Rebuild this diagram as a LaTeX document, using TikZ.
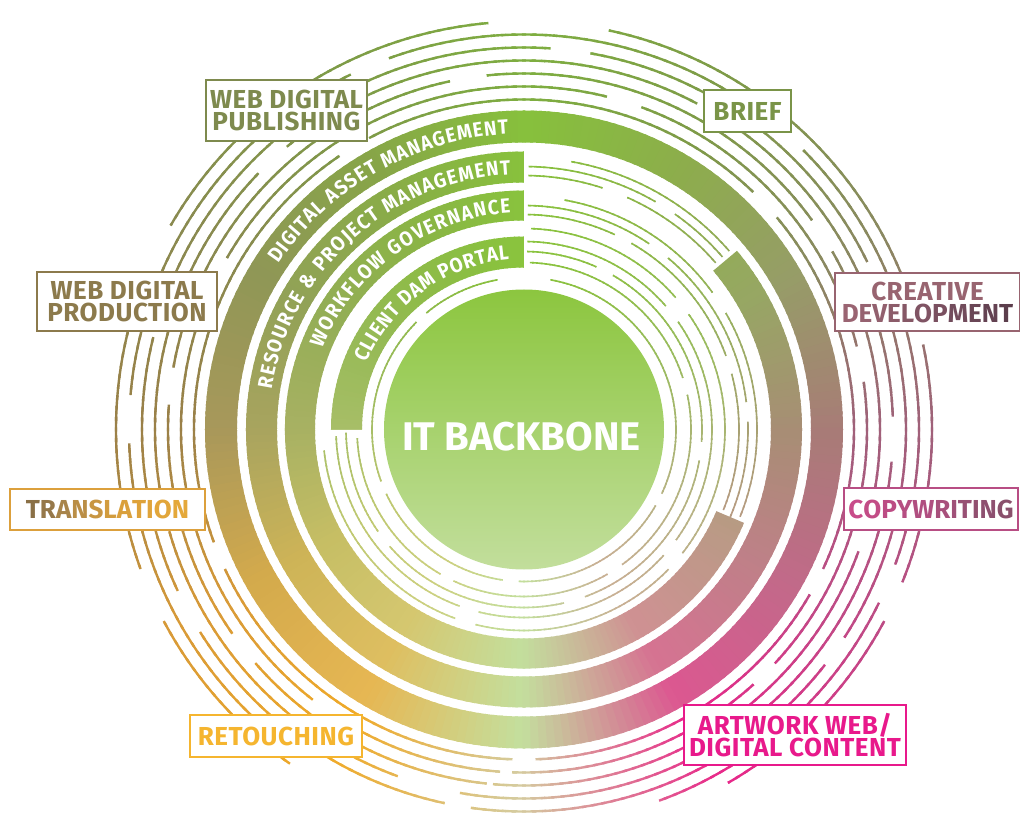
\documentclass[tikz,border=0pt]{standalone}
\usepackage{fontspec}
\setmainfont{Fira Sans}
\newfontfamily\bandfont{Fira Sans}[FakeStretch=0.92]
\usetikzlibrary{decorations.text}
% band colour stops every 30 degrees
\definecolor{c0}{HTML}{A87078}
\definecolor{c1}{HTML}{96966A}
\definecolor{c2}{HTML}{8CAA4C}
\definecolor{c3}{HTML}{86C03C}
\definecolor{c4}{HTML}{86A048}
\definecolor{c5}{HTML}{8E9056}
\definecolor{c6}{HTML}{A89058}
\definecolor{c7}{HTML}{D8A444}
\definecolor{c8}{HTML}{ECB24A}
\definecolor{c9}{HTML}{C4DF9E}
\definecolor{c10}{HTML}{E04590}
\definecolor{c11}{HTML}{C45A8A}
% outer line colour stops
\definecolor{d0}{HTML}{A0607A}
\definecolor{d1}{HTML}{8A8A60}
\definecolor{d2}{HTML}{7E9A48}
\definecolor{d3}{HTML}{7EAE40}
\definecolor{d4}{HTML}{7E9A48}
\definecolor{d5}{HTML}{8A8A50}
\definecolor{d6}{HTML}{9A8048}
\definecolor{d7}{HTML}{D89A38}
\definecolor{d8}{HTML}{F0AA28}
\definecolor{d9}{HTML}{D4CCA0}
\definecolor{d10}{HTML}{E8288A}
\definecolor{d11}{HTML}{C04A86}
\definecolor{gT}{HTML}{8CC63F}
\definecolor{gB}{HTML}{C2DE9C}
\definecolor{colPub}{HTML}{7E8A4E}
\definecolor{colBrief}{HTML}{7A9448}
\definecolor{colProd}{HTML}{8C7A4C}
\definecolor{colCrea}{HTML}{986470}
\definecolor{colTrans}{HTML}{DCA03C}
\definecolor{colCopy}{HTML}{B84E84}
\definecolor{colRet}{HTML}{F5B52F}
\definecolor{colArt}{HTML}{E8198B}
\newcommand{\setcellcolor}[3]{%
  \pgfmathsetmacro{\cellk}{int(floor(#1/30))}%
  \pgfmathsetmacro{\celln}{int(mod(\cellk+1,12))}%
  \pgfmathsetmacro{\cellf}{int(100-(#1-30*\cellk)/30*100)}%
  \colorlet{tmpO}{#3\cellk!\cellf!#3\celln}%
  \pgfmathsetmacro{\cellp}{int((1-sin(#1))/2*100)}%
  \colorlet{tmpI}{gB!\cellp!gT}%
  \colorlet{cellc}{tmpO!#2!tmpI}%
}
\newcommand{\lc}[2]{\textcolor[HTML]{#1}{#2}}
\tikzset{
  lbl/.style={draw=#1, text=#1, fill=white, line width=2.5pt, inner sep=0pt,
    font=\fontsize{26}{22}\selectfont\bfseries\addfontfeature{LetterSpace=2}, align=center},
  bandtext/.style={decorate, decoration={text along path, text align=fit to path,
    text color=white, text={#1}}},
}
\begin{document}
\begin{tikzpicture}[x=1pt,y=1pt]
\useasboundingbox (-524,-384.5) rectangle (496,429.5);
\begin{scope}
\clip foreach \ri/\ro/\a/\b in {287/319/0/360, 247/278/90/400, 209/239/90/337, 162/193/90/180}
  { (\a:\ri) arc[start angle=\a, end angle=\b, radius=\ri] -- (\b:\ro) arc[start angle=\b, end angle=\a, radius=\ro] -- cycle }
  foreach \r/\w/\a/\b [evaluate=\r as \ri using \r-\w, evaluate=\r as \ro using \r+\w] in {
   152/0.8/100/130, 152/0.8/135/200, 152/0.8/205/262, 152/0.8/268/330, 152/0.8/335/440,
   167/0.8/183/240, 167/0.8/245/300, 167/0.8/306/372, 167/0.8/378/448,
   178/0.8/181/215, 178/0.8/221/283, 178/0.8/290/350, 178/0.8/356/420, 178/0.8/426/449,
   188/0.8/182/250, 188/0.8/256/318, 188/0.8/324/395, 188/0.8/401/449,
   201/0.8/186/250, 201/0.8/256/316, 201/0.8/322/395, 201/0.8/401/448,
   215/0.8/338/375, 215/0.8/380/420, 215/0.8/425/449,
   224/0.8/337/362, 224/0.8/367/410, 224/0.8/416/449,
   233/0.8/338/390, 233/0.8/396/440,
   254/0.8/41/66, 254/0.8/72/89, 263/0.8/41/55, 263/0.8/60/89, 272/0.8/41/80,
   330/1.2/-88/-30, 330/1.2/-25/40, 330/1.2/46/118, 330/1.2/124/200, 330/1.2/205/268,
   343/1.2/-92/-48, 343/1.2/-43/8, 343/1.2/14/70, 343/1.2/76/150, 343/1.2/156/232, 343/1.2/238/266,
   356/1.2/-95/-20, 356/1.2/-15/30, 356/1.2/36/96, 356/1.2/102/170, 356/1.2/176/215, 356/1.2/221/264,
   369/1.2/-100/-60, 369/1.2/-55/-5, 369/1.2/2/55, 369/1.2/62/130, 369/1.2/136/190, 369/1.2/196/250,
   382/1.2/-98/-38, 382/1.2/-33/20, 382/1.2/26/80, 382/1.2/86/160, 382/1.2/166/205, 382/1.2/212/258,
   395/1.2/-70/-26, 395/1.2/-20/45, 395/1.2/50/110, 395/1.2/116/175, 395/1.2/182/236,
   408/1.2/-60/-28, 408/1.2/-22/12, 408/1.2/20/78, 408/1.2/95/150, 408/1.2/158/200, 408/1.2/208/235}
  { (\a:\ri) arc[start angle=\a, end angle=\b, radius=\ri] -- (\b:\ro) arc[start angle=\b, end angle=\a, radius=\ro] -- cycle };
\foreach \rr/\RR/\tt/\pp in {138/205/30/c, 205/243/50/c, 243/283/70/c, 283/323/88/c, 323/420/100/d} {
  \foreach \aa in {0,1.5,...,358.5} {
    \pgfmathsetmacro{\am}{\aa+0.75}
    \setcellcolor{\am}{\tt}{\pp}
    \fill[cellc] ({\aa-0.3}:\rr) arc[start angle=\aa-0.3, end angle=\aa+1.8, radius=\rr]
      -- ({\aa+1.8}:\RR) arc[start angle=\aa+1.8, end angle=\aa-0.3, radius=\RR] -- cycle;
  }
}
\end{scope}
% centre
\shade[top color=gT, bottom color=gB] (0,0) circle[radius=140];
\node[text=white, font=\fontsize{40}{40}\selectfont\bfseries] (itb) at (-2.5,-7.5) {IT BACKBONE};
% band texts
\path[bandtext={|\fontsize{20.5}{21}\bandfont\bfseries|DIGITAL ASSET MANAGEMENT}] (146:296) arc[start angle=146, end angle=93, radius=296];
\path[bandtext={|\fontsize{20.5}{21}\bandfont\bfseries|RESOURCE {\&} PROJECT MANAGEMENT}] (171:255.5) arc[start angle=171, end angle=93, radius=255.5];
\path[bandtext={|\fontsize{20.5}{21}\bandfont\bfseries|WORKFLOW GOVERNANCE}] (158:217) arc[start angle=158, end angle=93.5, radius=217];
\path[bandtext={|\fontsize{20.5}{21}\bandfont\bfseries|CLIENT DAM PORTAL}] (157:170.5) arc[start angle=157, end angle=95, radius=170.5];
% labels
\node[lbl=colPub, minimum width=161, minimum height=61] (pub) at (-237.5,319) {WEB DIGITAL\\PUBLISHING};
\node[lbl=colBrief, minimum width=87, minimum height=42] (brief) at (223.5,318.5) {BRIEF};
\node[lbl=colProd, minimum width=180, minimum height=59] (prod) at (-397,128) {WEB DIGITAL\\PRODUCTION};
\node[lbl=colCrea, minimum width=185, minimum height=58] (crea) at (403.5,127.5) {CREATIVE\\\lc{9A6472}{D}\lc{966270}{E}\lc{92606E}{V}\lc{8C5C6A}{E}\lc{865866}{L}\lc{805464}{O}\lc{7A5060}{P}\lc{724C5C}{M}\lc{6A4656}{E}\lc{644252}{N}\lc{5C3E4C}{T}};
\node[lbl=colTrans, minimum width=195, minimum height=41] (trans) at (-416.5,-80) {\lc{8A7046}{T}\lc{96784A}{R}\lc{A8844A}{A}\lc{BA8E46}{N}\lc{C89642}{S}\lc{D29C3E}{L}\lc{DAA03C}{A}\lc{DEA23A}{T}\lc{E0A43A}{I}\lc{E2A63A}{O}\lc{E4A83A}{N}};
\node[lbl=colCopy, minimum width=174, minimum height=42] (copy) at (407,-79.5) {\lc{C84C8A}{C}\lc{C24C86}{O}\lc{BC4C84}{P}\lc{B64E82}{Y}\lc{B04E80}{W}\lc{A8507C}{R}\lc{A05078}{I}\lc{985074}{T}\lc{925070}{I}\lc{8E5070}{N}\lc{8A506C}{G}};
\node[lbl=colRet, minimum width=172, minimum height=42] (ret) at (-248,-306.5) {RETOUCHING};
\node[lbl=colArt, minimum width=222, minimum height=60] (art) at (271,-305.5) {ARTWORK WEB/\\DIGITAL CONTENT};
\end{tikzpicture}
\end{document}
